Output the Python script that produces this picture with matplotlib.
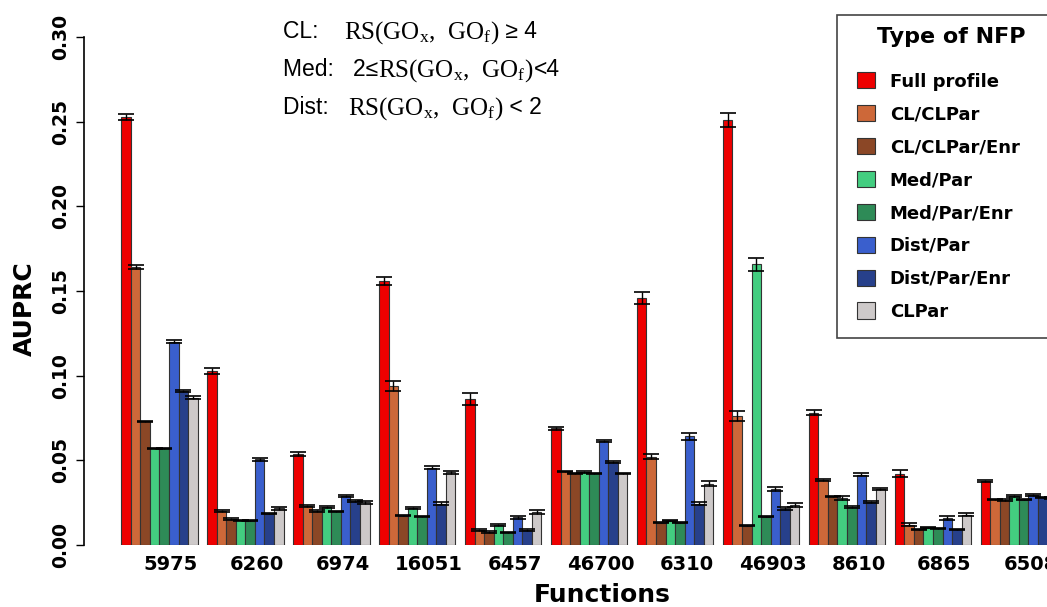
#!/usr/bin/env python3
# -*- coding: utf-8 -*-
"""AUPRC por función GO y tipo de NFP (barras agrupadas con error estándar)."""
import matplotlib

matplotlib.use("Agg")
import matplotlib.pyplot as plt
from matplotlib.offsetbox import AnchoredOffsetbox, HPacker, TextArea, VPacker
from matplotlib.patches import Rectangle
import numpy as np

plt.rcParams["mathtext.fontset"] = "custom"
plt.rcParams["mathtext.rm"] = "Liberation Serif"
plt.rcParams["mathtext.it"] = "Liberation Serif:italic"

# ── Datos ────────────────────────────────────────────────────────────────────
functions = ["5975", "6260", "6974", "16051", "6457", "46700",
             "6310", "46903", "8610", "6865", "6508"]

series = ["Full profile", "CL/CLPar", "CL/CLPar/Enr", "Med/Par",
          "Med/Par/Enr", "Dist/Par", "Dist/Par/Enr", "CLPar"]

full_profile = [0.253, 0.103, 0.054, 0.156, 0.086, 0.069, 0.146, 0.251, 0.078, 0.042, 0.038]
cl_clpar = [0.164, 0.020, 0.023, 0.094, 0.009, 0.0435, 0.052, 0.076, 0.0386, 0.012, 0.027]
cl_clpar_enr = [0.073, 0.0153, 0.020, 0.0173, 0.0076, 0.0425, 0.0131, 0.0114, 0.0288, 0.0092, 0.0265]
med_par = [0.057, 0.0147, 0.0224, 0.022, 0.0118, 0.0431, 0.0143, 0.1657, 0.0278, 0.0102, 0.0288]
med_par_enr = [0.057, 0.0143, 0.020, 0.0171, 0.0076, 0.0425, 0.0131, 0.0167, 0.0225, 0.010, 0.0268]
dist_par = [0.120, 0.0506, 0.029, 0.0457, 0.0163, 0.0614, 0.0643, 0.0333, 0.0416, 0.016, 0.0298]
dist_par_enr = [0.091, 0.0186, 0.0257, 0.0245, 0.0088, 0.049, 0.0245, 0.0216, 0.0253, 0.0092, 0.0281]
clpar = [0.087, 0.0216, 0.0251, 0.0429, 0.0196, 0.0425, 0.0363, 0.0235, 0.0331, 0.018, 0.028]

# error estándar (semiamplitud de las barras de error)
err_full_profile = [0.0018, 0.0018, 0.0012, 0.0025, 0.0035, 0.0008, 0.0035, 0.0040, 0.0015, 0.0020, 0.0006]
err_cl_clpar = [0.0012, 0.0004, 0.0006, 0.0030, 0.0006, 0.0004, 0.0015, 0.0030, 0.0006, 0.0008, 0.0004]
err_cl_clpar_enr = [0.0005, 0.0004, 0.0004, 0.0004, 0.0004, 0.0003, 0.0003, 0.0003, 0.0004, 0.0004, 0.0004]
err_med_par = [0.0003, 0.0003, 0.0006, 0.0005, 0.0008, 0.0004, 0.0004, 0.0040, 0.0010, 0.0004, 0.0006]
err_med_par_enr = [0.0003, 0.0003, 0.0003, 0.0003, 0.0003, 0.0003, 0.0003, 0.0004, 0.0004, 0.0003, 0.0003]
err_dist_par = [0.0010, 0.0010, 0.0008, 0.0010, 0.0008, 0.0006, 0.0020, 0.0012, 0.0010, 0.0012, 0.0006]
err_dist_par_enr = [0.0006, 0.0004, 0.0006, 0.0008, 0.0004, 0.0004, 0.0006, 0.0010, 0.0004, 0.0004, 0.0004]
err_clpar = [0.0010, 0.0008, 0.0006, 0.0010, 0.0010, 0.0003, 0.0015, 0.0012, 0.0008, 0.0010, 0.0006]

values = [full_profile, cl_clpar, cl_clpar_enr, med_par,
          med_par_enr, dist_par, dist_par_enr, clpar]
errors = [err_full_profile, err_cl_clpar, err_cl_clpar_enr, err_med_par,
          err_med_par_enr, err_dist_par, err_dist_par_enr, err_clpar]

# colores de R: red2, sienna3, sienna4, seagreen3, seagreen4, royalblue3, royalblue4, snow3
colors = ["#EE0000", "#CD6839", "#8B4726", "#43CD80",
          "#2E8B57", "#3A5FCD", "#27408B", "#CDC9C9"]

# ── Figura ───────────────────────────────────────────────────────────────────
W, H = 1047, 607
fig = plt.figure(figsize=(W / 100, H / 100), dpi=100)
ax = fig.add_axes([84 / W, 62 / H, (W - 84) / W, 508 / H])

n_ser = len(series)
group_step = n_ser + 1          # un hueco de una barra entre grupos (estilo barplot de R)
g = np.arange(len(functions))

handles = []
for i, (name, vals, errs, col) in enumerate(zip(series, values, errors, colors)):
    x = 1 + g * group_step + i + 0.5
    b = ax.bar(x, vals, width=1.0, color=col, edgecolor="#333333", linewidth=0.8,
               label=name, zorder=2)
    handles.append(b)
    ax.errorbar(x, vals, yerr=errs, fmt="none", ecolor="black", elinewidth=1.0,
                capsize=5.5, capthick=1.2, zorder=3)

ax.set_xlim(-2.9, 97.94)
ax.set_ylim(0, 0.30)

for s in ("top", "right", "bottom"):
    ax.spines[s].set_visible(False)
ax.spines["left"].set_linewidth(1.2)

ax.set_yticks(np.arange(0, 0.301, 0.05))
ax.set_yticklabels([f"{v:.2f}" for v in np.arange(0, 0.301, 0.05)],
                   rotation=90, va="center", fontsize=13.5, fontweight="bold")
ax.tick_params(axis="y", length=6, width=1.0, pad=4)

ax.set_xticks(1 + g * group_step + n_ser / 2 + 1.2)
ax.set_xticklabels(functions, fontsize=14, fontweight="bold")
ax.tick_params(axis="x", length=0, pad=7)

fig.text(25 / W, 1 - 309 / H, "AUPRC", rotation=90, ha="center", va="center",
         fontsize=18, fontweight="bold")
fig.text(602 / W, 1 - 595 / H, "Functions", ha="center", va="center",
         fontsize=18, fontweight="bold")

# ── Anotación de umbrales (sans + serif mezcladas) ───────────────────────────
sans = {"family": "Liberation Sans", "size": 16.5}
serif = {"family": "Liberation Serif", "size": 18}
rs = r"RS(GO$_\mathrm{x}$,  GO$_\mathrm{f}$)"
note_lines = [
    [("CL:    ", sans), (rs, serif), (" ≥ 4", sans)],
    [("Med:   2≤", sans), (rs, serif), ("<4", sans)],
    [("Dist:   ", sans), (rs, serif), (" < 2", sans)],
]
rows = [HPacker(children=[TextArea(t, textprops=p) for t, p in line],
                align="baseline", pad=0, sep=0) for line in note_lines]
notes = VPacker(children=rows, align="left", pad=0, sep=8)
fig.add_artist(AnchoredOffsetbox(loc="upper left", child=notes, frameon=False,
                                 pad=0, borderpad=0,
                                 bbox_to_anchor=(283 / W, 1 - 19 / H),
                                 bbox_transform=fig.transFigure))

# ── Leyenda ──────────────────────────────────────────────────────────────────
fig.patches.append(Rectangle((837 / W, 1 - 338 / H), 0.3, 323 / H,
                             transform=fig.transFigure, facecolor="white",
                             edgecolor="#444444", linewidth=1.2, zorder=5))
fig.text(951 / W, 1 - 37 / H, "Type of NFP", ha="center", va="center",
         fontsize=16, fontweight="bold", zorder=6)
leg = fig.legend(handles=handles, labels=series, loc="upper left",
                 bbox_to_anchor=(841 / W, 1 - 56 / H),
                 frameon=False, handlelength=1.0,
                 handleheight=1.0, handletextpad=0.8, labelspacing=0.81,
                 prop={"size": 13, "weight": "bold"})
leg.set_zorder(6)

fig.savefig("out.png", dpi=100)
